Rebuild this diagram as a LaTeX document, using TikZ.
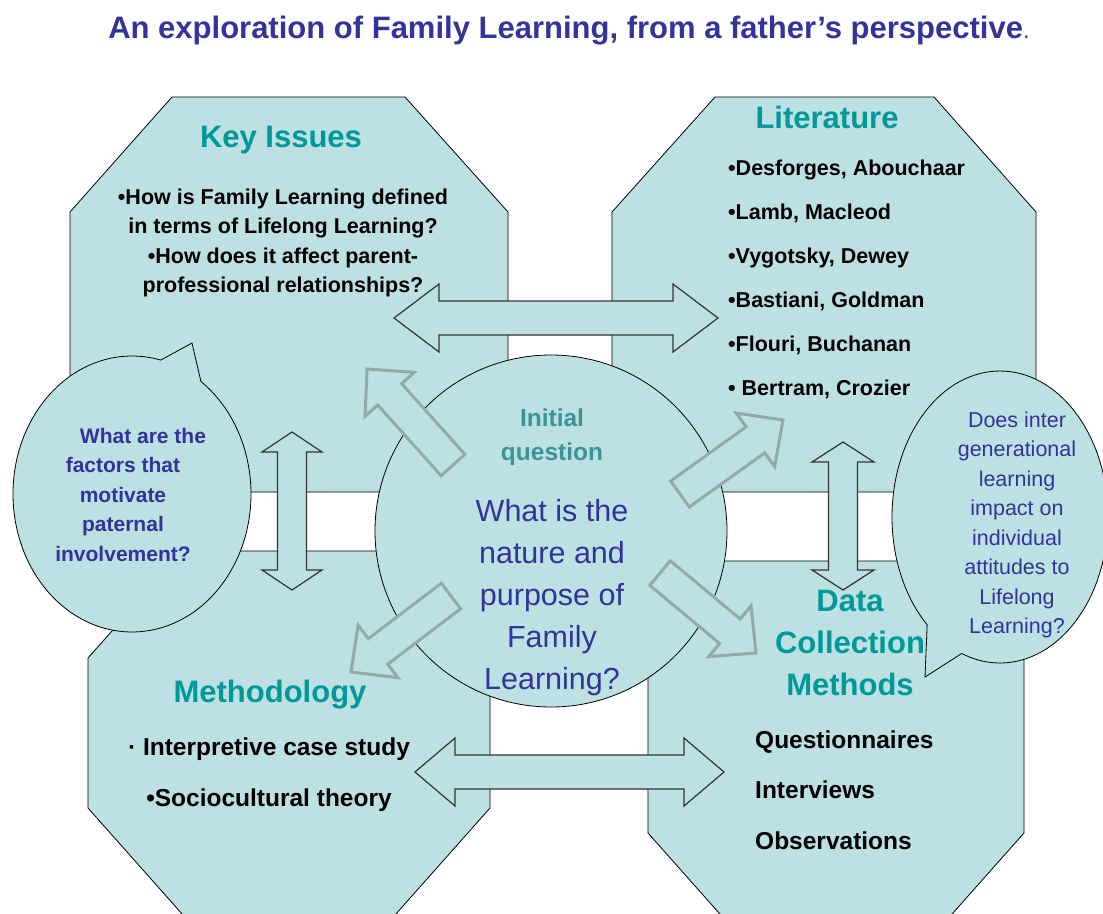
\documentclass[tikz,border=0pt]{standalone}
\usepackage{fontspec}
\setmainfont{Liberation Sans}
\usepackage{tkz-euclide}
\usetikzlibrary{calc}

\definecolor{panel}{RGB}{189,224,227}
\definecolor{titleblue}{RGB}{51,51,153}
\definecolor{headteal}{RGB}{0,153,153}
\definecolor{qteal}{RGB}{58,150,150}
\definecolor{arrowgray}{RGB}{148,170,170}

\tikzset{
  panelbox/.style={fill=panel, draw=black, line width=0.8pt},
  bigarrow/.style={fill=panel, draw=black!80, line width=1.2pt},
  diagarrow/.style={fill=panel, draw=arrowgray, line width=3pt, line join=miter},
  heading/.style={text=headteal, font=\fontsize{31}{42}\selectfont\bfseries, align=center},
  body/.style={font=\fontsize{21.5}{#1}\selectfont\bfseries},
}

\newcommand\twoway[5]{%
  \coordinate (da) at #1; \coordinate (db) at #2;
  \coordinate (ha) at ($(da)!#5!(db)$); \coordinate (hb) at ($(db)!#5!(da)$);
  \filldraw[bigarrow] (da) -- ($(ha)!#4!90:(db)$) -- ($(ha)!#3!90:(db)$) -- ($(hb)!#3!-90:(da)$) -- ($(hb)!#4!-90:(da)$) -- (db)
    -- ($(hb)!#4!90:(da)$) -- ($(hb)!#3!90:(da)$) -- ($(ha)!#3!-90:(db)$) -- ($(ha)!#4!-90:(db)$) -- cycle;}
\newcommand\outarrow[2]{%
  \coordinate (bt) at #1; \coordinate (bp) at #2;
  \coordinate (bb) at ($(bp)!34pt!(bt)$);
  \filldraw[diagarrow] ($(bt)!16pt!90:(bp)$) -- ($(bb)!16pt!-90:(bt)$) -- ($(bb)!33pt!-90:(bt)$) -- (bp)
    -- ($(bb)!33pt!90:(bt)$) -- ($(bb)!16pt!90:(bt)$) -- ($(bt)!16pt!-90:(bp)$) -- cycle;}

\begin{document}
\begin{tikzpicture}[x=1pt, y=-1pt, every node/.style={inner sep=0pt}]
    \useasboundingbox (0,0) rectangle (1103,913);
    \clip (0,0) rectangle (1103,913);
    \tkzDefPoints{551/531/O,132/494/L,1000/517/R}
    \coordinate (KIend) at (394,318);
    \coordinate (Litend) at (718,318);
    \coordinate (Mend) at (415,772);
    \coordinate (Dend) at (724,772);
    \coordinate (KIup) at (292,432);
    \coordinate (Mdown) at (292,590);
    \coordinate (Litup) at (843,442);
    \coordinate (Ddown) at (843,590);

    \draw[panelbox] (172,97) -- (405,97) -- (508,212) -- (508,422) -- (448,492) -- (130,492) -- (70,422) -- (70,212) -- cycle;
    \draw[panelbox] (715,97) -- (934,97) -- (1036,212) -- (1036,422) -- (976,492) -- (672,492) -- (612,422) -- (612,212) -- cycle;
    \draw[panelbox] (183,551) -- (395,551) -- (490,658) -- (490,808) -- (395,915) -- (183,915) -- (88,808) -- (88,658) -- cycle;
    \draw[panelbox] (718,561) -- (954,561) -- (1024,641) -- (1024,833) -- (929,940) -- (743,940) -- (648,833) -- (648,641) -- cycle;

    \twoway{(KIend)}{(Litend)}{17pt}{34pt}{45pt}
    \twoway{(Mend)}{(Dend)}{17pt}{34pt}{40pt}
    \twoway{(KIup)}{(Mdown)}{14.5pt}{30pt}{20pt}
    \twoway{(Litup)}{(Ddown)}{14.5pt}{31pt}{20pt}

    \draw[panelbox] ($(L)+(-54.6:119 and 138)$) arc[start angle=-54.6, end angle=284, x radius=119, y radius=138] -- (192,343) -- cycle;
    \draw[panelbox] ($(R)+(132.4:108 and 146)$) arc[start angle=132.4, end angle=470.8, x radius=108, y radius=146] -- (925,677) -- cycle;
    \draw[panelbox] (O) circle[radius=176];

    \outarrow{(453,465)}{(367,369)}
    \outarrow{(680,494)}{(783,420)}
    \outarrow{(451,596)}{(351,672)}
    \outarrow{(660,573)}{(756,653)}

    \node[text=titleblue, font=\fontsize{31}{31}\selectfont\bfseries] (title) at (569,31)
        {An exploration of Family Learning, from a father’s perspective{\mdseries\fontsize{24}{24}\selectfont.}};
    \node[heading] (KIhead) at (281,140) {Key Issues};
    \node[body=29.5, align=center] (KItext) at (283,243)
        {•How is Family Learning defined\\in terms of Lifelong Learning?\\•How does it affect parent-\\professional relationships?};
    \node[heading] (Lithead) at (827,117.5) {Literature};
    \node[body=44, align=left, anchor=west] (Littext) at (728,279.5)
        {•Desforges, Abouchaar\\•Lamb, Macleod\\•Vygotsky, Dewey\\•Bastiani, Goldman\\•Flouri, Buchanan\\• Bertram, Crozier};
    \node[align=center, text=titleblue, font=\fontsize{21}{29.5}\selectfont\bfseries] (Lq) at (123,494.5)
        {\hspace*{40pt}What are the\\factors that\\motivate\\paternal\\involvement?};
    \node[align=center, text=titleblue, font=\fontsize{21.5}{29.5}\selectfont] (Rq) at (1017,525)
        {Does inter\\generational\\learning\\impact on\\individual\\attitudes to\\Lifelong\\Learning?};
    \node[align=center, text=qteal, font=\fontsize{24.5}{34}\selectfont\bfseries] (init) at (552,437) {Initial\\question};
    \node[align=center, text=titleblue, font=\fontsize{30.5}{42}\selectfont] (mainq) at (552,598)
        {What is the\\nature and\\purpose of\\Family\\Learning?};
    \node[heading] (Mhead) at (270,695) {Methodology};
    \node[align=center, font=\fontsize{24.5}{51}\selectfont\bfseries] (Mtext) at (269,774.5)
        {· Interpretive case study\\•Sociocultural theory};
    \node[heading] (Dhead) at (850,642.5) {Data\\Collection\\Methods};
    \node[anchor=west, align=left, font=\fontsize{24.5}{50.5}\selectfont\bfseries] (Dtext) at (755,790)
        {Questionnaires\\Interviews\\Observations};
\end{tikzpicture}
\end{document}
